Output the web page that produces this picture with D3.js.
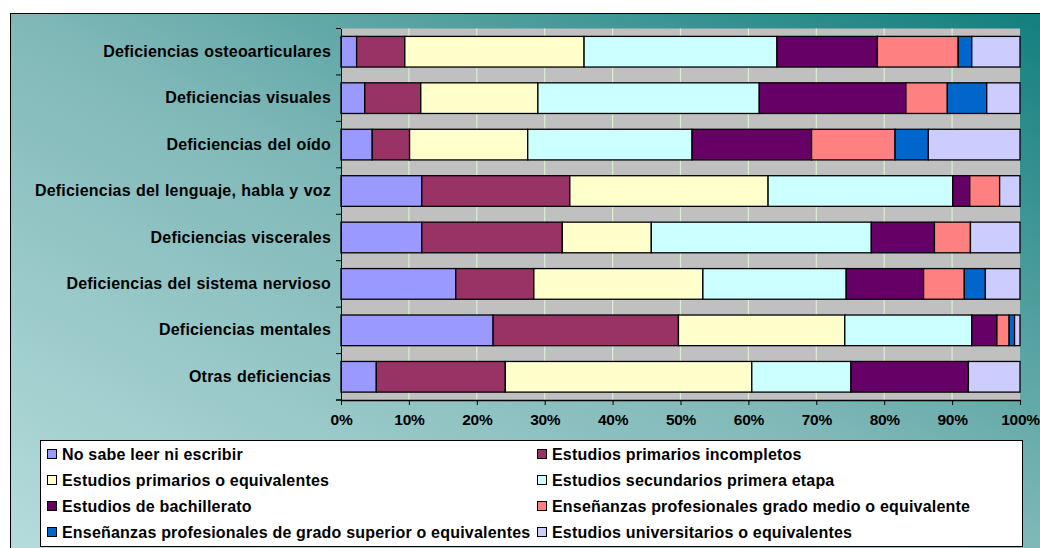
<!DOCTYPE html>
<html><head><meta charset="utf-8">
<script src="https://cdn.jsdelivr.net/npm/d3@7"></script>
<style>html,body{margin:0;padding:0;background:#fff;}svg{display:block;}</style>
</head><body>
<svg id="c" width="1040" height="548"></svg>
<script>
const categories = [
  "Deficiencias osteoarticulares",
  "Deficiencias visuales",
  "Deficiencias del oído",
  "Deficiencias del lenguaje, habla y voz",
  "Deficiencias viscerales",
  "Deficiencias del sistema nervioso",
  "Deficiencias mentales",
  "Otras deficiencias"
];
const seriesNames = [
  "No sabe leer ni escribir",
  "Estudios primarios incompletos",
  "Estudios primarios o equivalentes",
  "Estudios secundarios primera etapa",
  "Estudios de bachillerato",
  "Enseñanzas profesionales grado medio o equivalente",
  "Enseñanzas profesionales de grado superior o equivalentes",
  "Estudios universitarios o equivalentes"
];
const noSabe        = [2.3, 3.5, 4.6, 11.9, 11.9, 16.9, 22.4, 5.2];
const primInc       = [7.1, 8.25, 5.5, 21.8, 20.7, 11.5, 27.3, 19.0];
const primarios     = [26.4, 17.25, 17.4, 29.2, 13.1, 24.9, 24.5, 36.3];
const secundarios   = [28.4, 32.6, 24.2, 27.2, 32.4, 21.1, 18.7, 14.6];
const bachillerato  = [14.8, 21.6, 17.6, 2.5, 9.3, 11.4, 3.7, 17.3];
const fpMedio       = [11.9, 6.1, 12.3, 4.4, 5.3, 6.0, 1.8, 0];
const fpSuperior    = [2.0, 5.8, 4.9, 0, 0, 3.1, 0.8, 0];
const universitarios= [7.1, 4.9, 13.5, 3.0, 7.3, 5.1, 0.8, 7.6];
const tickLabels = ["0%","10%","20%","30%","40%","50%","60%","70%","80%","90%","100%"];
const colors = ["#9999FF","#993366","#FFFFCC","#CCFFFF","#660066","#FF8080","#0066CC","#CCCCFF"];

const allSeries = [noSabe, primInc, primarios, secundarios, bachillerato, fpMedio, fpSuperior, universitarios];
const rows = categories.map((c, i) => {
  const r = {cat: c};
  seriesNames.forEach((s, j) => r[s] = allSeries[j][i]);
  return r;
});
const stacked = d3.stack().keys(seriesNames)
  .offset(d3.stackOffsetExpand)(rows);

const svg = d3.select("#c");
const font = "'Liberation Sans', Arial, sans-serif";

// background gradient
const defs = svg.append("defs");
const g = defs.append("linearGradient").attr("id","bg")
  .attr("x1","0").attr("y1","1").attr("x2","1").attr("y2","0");
g.append("stop").attr("offset","0").attr("stop-color","#b6dcdc");
g.append("stop").attr("offset","0.5").attr("stop-color","#80b8b8");
g.append("stop").attr("offset","1").attr("stop-color","#127e7e");
svg.append("rect").attr("x",10.5).attr("y",13.5).attr("width",1040).attr("height",540)
  .attr("fill","url(#bg)").attr("stroke","#000").attr("stroke-width",1);

const pLeft = 341, pRight = 1020, pTop = 28.5, pBottom = 400;
const x = d3.scaleLinear().domain([0,1]).range([pLeft,pRight]);
const y = d3.scaleBand().domain(categories).range([pTop,pBottom]).paddingInner(0.34).paddingOuter(0.17);

svg.append("rect").attr("x",pLeft).attr("y",pTop).attr("width",pRight-pLeft).attr("height",pBottom-pTop)
  .attr("fill","#c0c0c0");

// gridlines
svg.append("g").selectAll("line").data(d3.range(1,10).map(d=>d/10)).join("line")
  .attr("x1",d=>x(d)).attr("x2",d=>x(d)).attr("y1",pTop).attr("y2",pBottom)
  .attr("stroke","#d8f0d0").attr("stroke-width",1.2);

// bars
svg.append("g").selectAll("g").data(stacked).join("g")
  .attr("fill",(d,i)=>colors[i])
  .selectAll("rect").data(d=>d).join("rect")
  .attr("x",d=>x(d[0])).attr("width",d=>Math.max(0,x(d[1])-x(d[0])))
  .attr("y",d=>y(d.data.cat)).attr("height",y.bandwidth())
  .attr("stroke","#000").attr("stroke-width",1.3)
  .attr("display",d=>(d[1]-d[0])>0?null:"none");

// x axis
const xa = svg.append("g").attr("transform",`translate(0,${pBottom})`)
  .call(d3.axisBottom(x).tickValues(d3.range(0,11).map(d=>d/10))
    .tickFormat((d,i)=>tickLabels[i]).tickSize(5).tickSizeOuter(0));
xa.select(".domain").attr("stroke","#000").attr("stroke-width",1.5);
xa.selectAll(".tick line").attr("stroke","#000").attr("stroke-width",1);
xa.selectAll("text").attr("font-family",font).attr("font-weight","bold")
  .attr("font-size","15.5px").attr("fill","#000").attr("y",14).attr("dy","0.71em").attr("letter-spacing","-0.3px");
svg.append("line").attr("x1",pLeft-5).attr("x2",pLeft).attr("y1",pBottom).attr("y2",pBottom).attr("stroke","#000");

// y axis
const ya = svg.append("g").attr("transform",`translate(${pLeft},0)`)
  .call(d3.axisLeft(y).tickSize(0).tickPadding(10));
ya.select(".domain").attr("stroke","#000").attr("stroke-width",1);
ya.selectAll("text").attr("font-family",font).attr("font-weight","bold")
  .attr("font-size","16px").attr("fill","#000").attr("letter-spacing","0.2px").attr("word-spacing","0.6px");
svg.append("g").selectAll("line").data(d3.range(0,9)).join("line")
  .attr("x1",pLeft-5).attr("x2",pLeft)
  .attr("y1",d=>pTop+d*(pBottom-pTop)/8).attr("y2",d=>pTop+d*(pBottom-pTop)/8)
  .attr("stroke","#000");

// legend
svg.append("rect").attr("x",40.5).attr("y",440.5).attr("width",982).attr("height",106)
  .attr("fill","#fff").attr("stroke","#000").attr("stroke-width",1);
const leg = svg.append("g").selectAll("g").data(seriesNames).join("g")
  .attr("transform",(d,i)=>`translate(${i%2===0?47:537},${454+Math.floor(i/2)*26})`);
leg.append("rect").attr("x",0.5).attr("y",-4.5).attr("width",9).attr("height",9)
  .attr("fill",(d,i)=>colors[i]).attr("stroke","#000").attr("stroke-width",1);
leg.append("text").attr("x",15).attr("y",0).attr("dy","0.36em")
  .attr("font-family",font).attr("font-weight","bold").attr("font-size","16px")
  .attr("letter-spacing","0.2px").text(d=>d);
</script>
</body></html>
